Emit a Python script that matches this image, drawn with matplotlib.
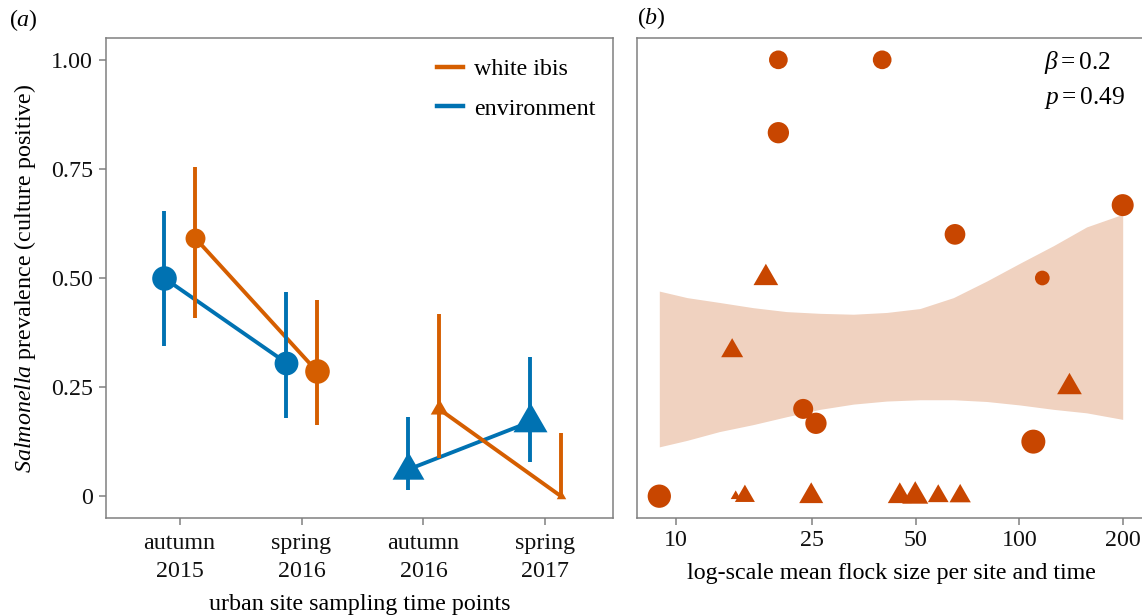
import matplotlib
matplotlib.use("Agg")
import matplotlib.pyplot as plt
import numpy as np
from matplotlib.lines import Line2D

plt.rcParams['font.family'] = ['Liberation Serif', 'DejaVu Serif']
plt.rcParams['mathtext.fontset'] = 'custom'
plt.rcParams['mathtext.rm'] = 'Liberation Serif'
plt.rcParams['mathtext.it'] = 'Liberation Serif:italic'
plt.rcParams['mathtext.bf'] = 'Liberation Serif:bold'

# ---------------- data: panel (a) ----------------
categories = ['autumn\n2015', 'spring\n2016', 'autumn\n2016', 'spring\n2017']
env_prev = [0.50, 0.306, 0.061, 0.17]
env_lo = [0.345, 0.18, 0.014, 0.079]
env_hi = [0.653, 0.468, 0.181, 0.318]
env_size = [24.6, 23.8, 31.8, 34.0]      # marker width in px
ibis_prev = [0.592, 0.286, 0.20, 0.0]
ibis_lo = [0.408, 0.163, 0.088, 0.0]
ibis_hi = [0.754, 0.450, 0.417, 0.144]
ibis_size = [19.9, 24.6, 17.5, 9.5]
shape_by_time = ['o', 'o', 'tri', 'tri']

# ---------------- data: panel (b) ----------------
circ_flock = [19.9, 39.9, 19.9, 200, 65, 116.7, 23.5, 25.6, 109.9, 8.96]
circ_prev = [1.0, 1.0, 0.833, 0.667, 0.60, 0.50, 0.20, 0.167, 0.125, 0.0]
circ_size = [18.7, 18.7, 21.3, 22.0, 20.7, 14.7, 20.0, 21.3, 24.0, 23.3]
tri_flock = [18.3, 14.6, 140, 14.95, 15.9, 24.8, 44.9, 49.8, 58.1, 67.3]
tri_prev = [0.50, 0.333, 0.25, 0.0, 0.0, 0.0, 0.0, 0.0, 0.0, 0.0]
tri_size = [24.7, 22.0, 24.7, 10.0, 20.0, 24.0, 24.0, 26.0, 20.7, 21.3]

ribbon_x = [8.96, 10.8, 13.4, 16.8, 21.0, 26.3, 32.9, 41.1, 51.4, 64.3, 80.4, 100.5, 125.7, 157, 200]
ribbon_hi = [0.470, 0.455, 0.444, 0.432, 0.423, 0.419, 0.417, 0.421, 0.430, 0.455, 0.493, 0.534, 0.574, 0.617, 0.646]
ribbon_lo = [0.113, 0.128, 0.148, 0.164, 0.182, 0.199, 0.211, 0.218, 0.221, 0.221, 0.217, 0.209, 0.199, 0.191, 0.176]

ORANGE = '#D55E00'
BLUE = '#0072B2'
ORANGE_B = '#C84600'
RIBBON = '#F0D2C0'
SPINE = '#808080'

# equilateral triangle centred on its centroid
TRI = [(0, 0.577), (-0.5, -0.2887), (0.5, -0.2887), (0, 0.577)]
TRI_SCALE = 1 / 0.866  # markersize -> width conversion

px2pt = 0.72
W, H = 1142, 616
fig = plt.figure(figsize=(W / 100, H / 100), dpi=100)

def frac(l, t, r, b):
    return [l / W, 1 - b / H, (r - l) / W, (b - t) / H]

axa = fig.add_axes(frac(106, 38, 613, 518))
axb = fig.add_axes(frac(636.7, 38, 1145.7, 518))

FS = 17.3
dodge = 0.127
x = np.arange(len(categories))
lw = 2.8

for prev, lo, hi, size, col, off in [
        (env_prev, env_lo, env_hi, env_size, BLUE, -dodge),
        (ibis_prev, ibis_lo, ibis_hi, ibis_size, ORANGE, dodge)]:
    xs = x + off
    for seg in [(0, 1), (2, 3)]:
        axa.plot(xs[list(seg)], [prev[i] for i in seg], color=col, lw=lw,
                 solid_capstyle='butt', zorder=2)
    axa.vlines(xs, lo, hi, color=col, lw=lw, zorder=3)
    for i in range(len(xs)):
        if shape_by_time[i] == 'o':
            axa.plot(xs[i], prev[i], marker='o', ms=size[i] * px2pt, color=col,
                     mec='none', zorder=4)
        else:
            axa.plot(xs[i], prev[i], marker=TRI, ms=size[i] * px2pt * TRI_SCALE,
                     color=col, mec='none', zorder=4)

axa.set_xlim(-0.603, 3.554)
axa.set_ylim(-0.05, 1.05)
axa.set_xticks(x)
axa.set_xticklabels(categories, fontsize=FS, linespacing=1.45)
axa.set_yticks([0, 0.25, 0.5, 0.75, 1.0])
axa.set_yticklabels(['0', '0.25', '0.50', '0.75', '1.00'], fontsize=FS)
axa.set_xlabel('urban site sampling time points', fontsize=FS, labelpad=8)
axa.set_ylabel(r'$\mathit{Salmonella}$ prevalence (culture positive)', fontsize=FS, labelpad=9)

handles = [Line2D([], [], color=ORANGE, lw=3.2), Line2D([], [], color=BLUE, lw=3.2)]
axa.legend(handles, ['white ibis', 'environment'], loc='upper left',
           bbox_to_anchor=(0.653, 0.958), borderaxespad=0, borderpad=0,
           frameon=False, fontsize=FS,
           handlelength=1.08, handletextpad=0.46, labelspacing=0.75)

# panel (b)
axb.fill_between(ribbon_x, ribbon_lo, ribbon_hi, color=RIBBON, lw=0, zorder=1)
axb.scatter(circ_flock, circ_prev, s=(np.array(circ_size) * px2pt) ** 2,
            marker='o', color=ORANGE_B, linewidths=0, zorder=3)
axb.scatter(tri_flock, tri_prev, s=(np.array(tri_size) * px2pt * TRI_SCALE) ** 2,
            marker=TRI, color=ORANGE_B, linewidths=0, zorder=3)
axb.set_xscale('log')
axb.set_xlim(10 ** 0.8865, 10 ** 2.368)
axb.set_ylim(-0.05, 1.05)
axb.set_xticks([10, 25, 50, 100, 200])
axb.set_xticklabels(['10', '25', '50', '100', '200'], fontsize=FS)
axb.xaxis.set_minor_locator(matplotlib.ticker.NullLocator())
axb.set_yticks([])
axb.set_xlabel('log-scale mean flock size per site and time', fontsize=FS, labelpad=8)
axb.text(0.800, 0.948, r'$\beta = 0.2$', transform=axb.transAxes, fontsize=FS + 1,
         ha='left', va='center')
axb.text(0.800, 0.874, r'$p = 0.49$', transform=axb.transAxes, fontsize=FS + 1,
         ha='left', va='center')

for ax in (axa, axb):
    for sp in ax.spines.values():
        sp.set_color(SPINE)
        sp.set_linewidth(1.1)
    ax.tick_params(color=SPINE, length=5, width=1.1, labelcolor='#111111')
axa.tick_params(axis='y', pad=4.4)
axa.tick_params(axis='x', pad=6.0)
axb.tick_params(axis='x', pad=4.0)

fig.text(9 / W, 1 - 20 / H, r'($\mathit{a}$)', fontsize=FS, va='center', ha='left')
fig.text(637 / W, 1 - 18 / H, r'($\mathit{b}$)', fontsize=FS, va='center', ha='left')

fig.savefig('out.png', dpi=100)
